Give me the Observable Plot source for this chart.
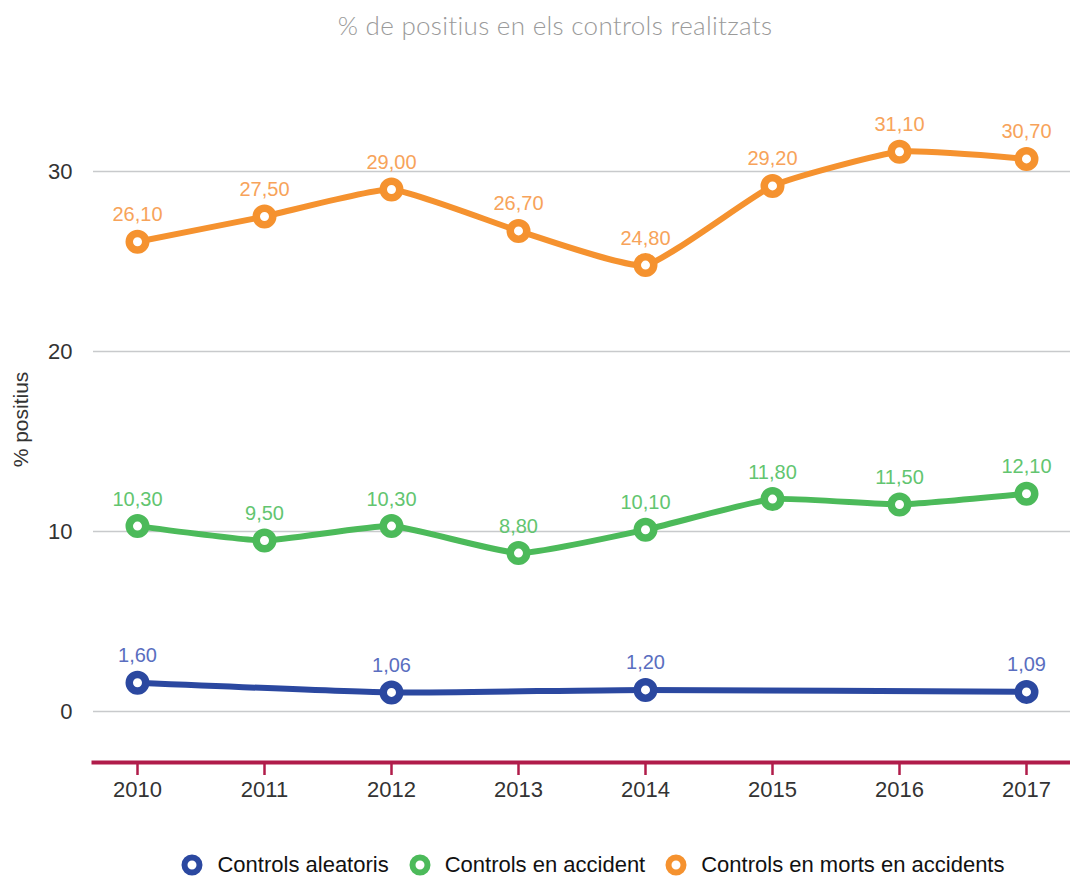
<!DOCTYPE html>
<html><head><meta charset="utf-8">
<script src="https://cdn.jsdelivr.net/npm/d3@7"></script>
<script src="https://cdn.jsdelivr.net/npm/@observablehq/plot@0.6"></script>
<style>
body{margin:0;background:#fff;font-family:"Liberation Sans",Arial,sans-serif;}
#title{height:50px;line-height:50px;text-align:center;font-family:Lato,"Open Sans",sans-serif;font-size:26px;color:#9a9a9a;font-weight:300;padding-left:40px;letter-spacing:0.3px}
#legend{display:flex;justify-content:center;align-items:center;height:30px;font-size:22px;color:#111;margin-top:10px;padding-left:116px}
#legend span.item{display:flex;align-items:center;gap:14px;margin-right:20px}
#legend span.item:last-child{margin-right:0}
</style></head>
<body>
<div id="title">% de positius en els controls realitzats</div>
<div id="chart"></div>
<div id="legend"></div>
<script>
const years = [2010, 2011, 2012, 2013, 2014, 2015, 2016, 2017];
const seriesNames = ["Controls aleatoris", "Controls en accident", "Controls en morts en accidents"];
const aleatorisYears = [2010, 2012, 2014, 2017];
const aleatoris = [1.60, 1.06, 1.20, 1.09];
const accident = [10.3, 9.5, 10.3, 8.8, 10.1, 11.8, 11.5, 12.1];
const morts = [26.1, 27.5, 29.0, 26.7, 24.8, 29.2, 31.1, 30.7];
const yTicks = [0, 10, 20, 30];
const colors = ["#2b48a0", "#4cba5a", "#f5922f"];
const labelColors = ["#5a6ec0", "#62c570", "#f7a35a"];

const data = [
  ...aleatorisYears.map((y, i) => ({year: y, value: aleatoris[i], s: seriesNames[0]})),
  ...years.map((y, i) => ({year: y, value: accident[i], s: seriesNames[1]})),
  ...years.map((y, i) => ({year: y, value: morts[i], s: seriesNames[2]}))
];
const fmt = v => d3.format(".2f")(v).replace(".", ",");

const chart = Plot.plot({
  width: 1070,
  height: 790,
  marginLeft: 93,
  marginRight: 0,
  marginTop: 10,
  marginBottom: 78,
  style: {fontFamily: '"Liberation Sans", Arial, sans-serif', fontSize: "22px", color: "#333"},
  x: {type: "point", domain: years, padding: 0.34, label: null},
  y: {domain: [-2.833, 36.167], label: null},
  color: {domain: seriesNames, range: colors},
  marks: [
    Plot.gridY(yTicks, {stroke: "#c8cacc", strokeOpacity: 1, strokeWidth: 1.6}),
    Plot.axisY(yTicks, {tickSize: 0, tickPadding: 21, fontSize: 22, fill: "#333", label: null}),
    Plot.text(["% positius"], {frameAnchor: "left", textAnchor: "middle", dx: -72, dy: 8, rotate: -90, fontSize: 21, fill: "#333"}),
    Plot.frame({anchor: "bottom", stroke: "#b01c4a", strokeWidth: 4}),
    Plot.axisX({tickSize: 13, stroke: "#b01c4a", strokeWidth: 2.5, tickPadding: 6, fontSize: 22, fill: "#333", label: null, tickFormat: d => String(d)}),
    Plot.line(data, {x: "year", y: "value", z: "s", stroke: "s", strokeWidth: 6, curve: "cardinal", tension: 0.55}),
    Plot.dot(data, {x: "year", y: "value", stroke: "s", fill: "white", r: 8.25, strokeWidth: 7.5}),
    Plot.text(data, {x: "year", y: "value", text: d => fmt(d.value), dy: -27, fontSize: 20,
      fill: d => labelColors[seriesNames.indexOf(d.s)]})
  ]
});
document.getElementById("chart").appendChild(chart);

const legend = document.getElementById("legend");
seriesNames.forEach((n, i) => {
  const item = document.createElement("span");
  item.className = "item";
  item.innerHTML = `<svg width="22" height="22"><circle cx="11" cy="11" r="7.5" fill="white" stroke="${colors[i]}" stroke-width="6"/></svg><span>${n}</span>`;
  legend.appendChild(item);
});
</script>
</body></html>
